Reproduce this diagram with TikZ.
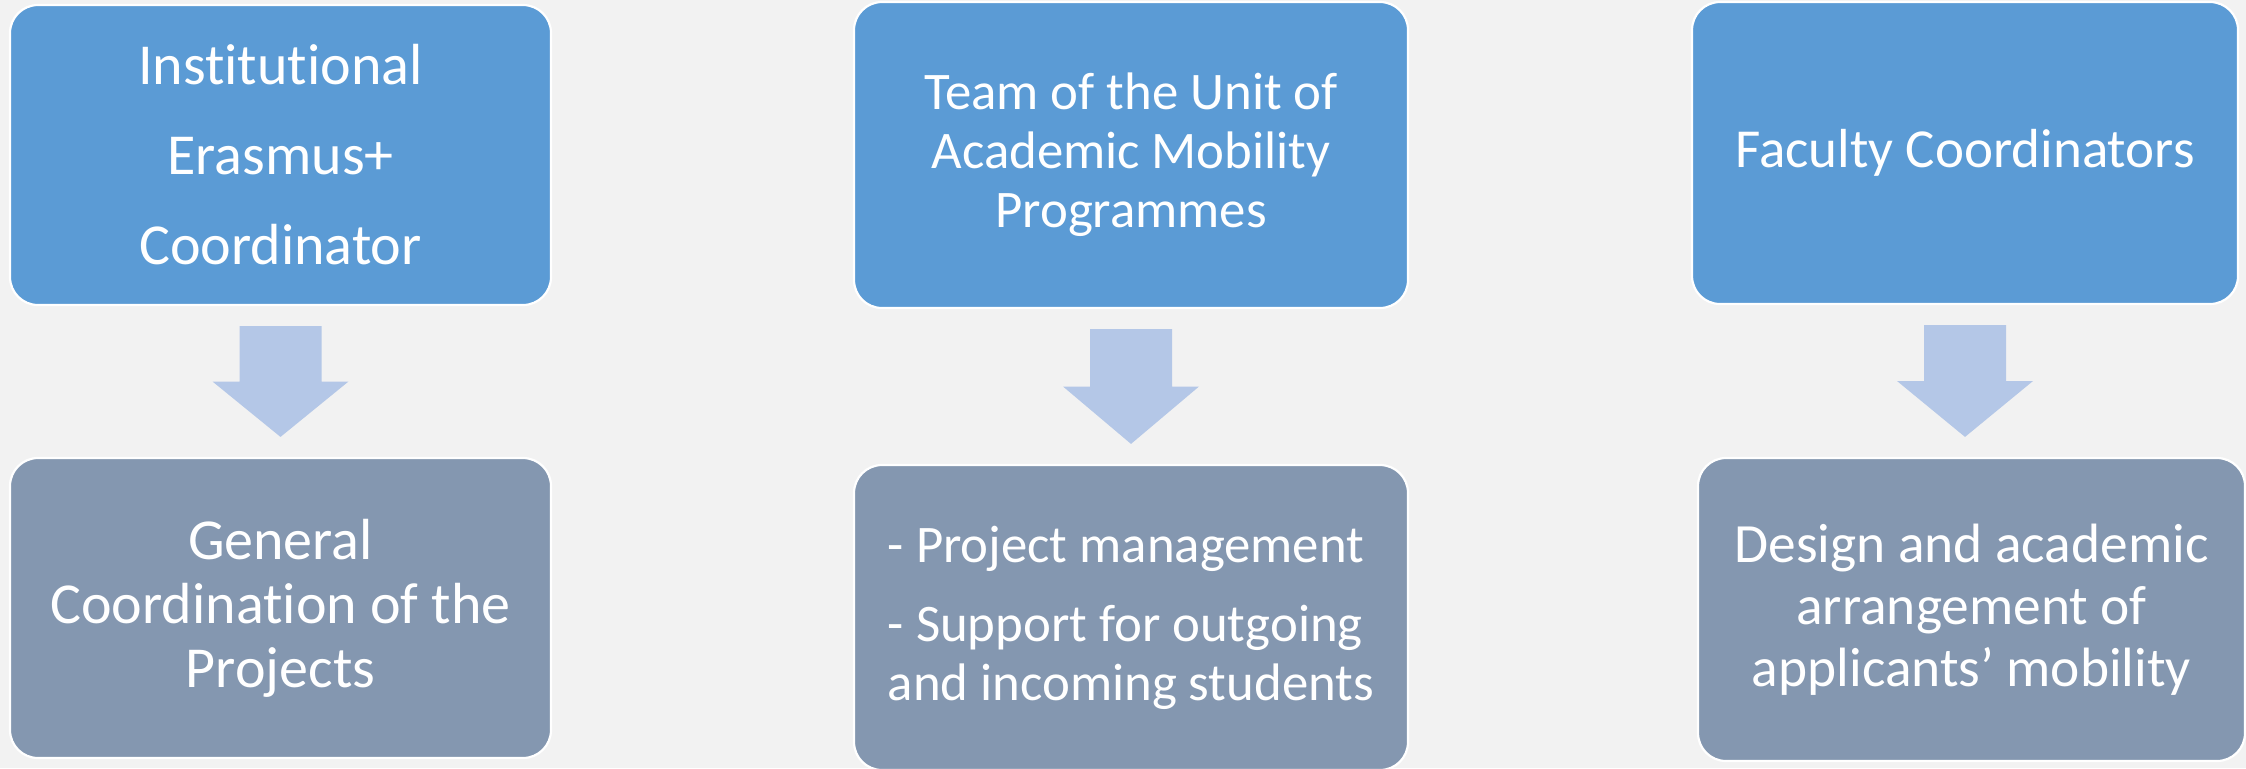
\documentclass[tikz,border=0pt]{standalone}
\usepackage{fontspec}
\setmainfont{Carlito}[Ligatures={NoCommon}]
\usetikzlibrary{calc}
\definecolor{bg}{HTML}{F2F2F2}
\definecolor{topblue}{HTML}{5B9BD5}
\definecolor{botgrey}{HTML}{8497B0}
\definecolor{arrowblue}{HTML}{B4C7E7}
\newcommand\blockarr[2]{%
  \fill[blockarrow] let \p1=(#1.south), \p2=(#2.north), \p3=($(\p1)!0.5!(\p2)$) in
    (\x1-20.5pt,\y1-10pt) -- (\x1+20.5pt,\y1-10pt) -- (\x1+20.5pt,\y3) --
    (\x1+34pt,\y3) -- (\x1,\y2+10pt) -- (\x1-34pt,\y3) --
    (\x1-20.5pt,\y3) -- cycle;}
\begin{document}
\begin{tikzpicture}[x=0.5pt,y=-0.5pt,
  box/.style={draw=white, line width=1.1pt, rounded corners=14pt, inner sep=0pt, text=white, align=center},
  topbox/.style={box, fill=topblue},
  botbox/.style={box, fill=botgrey},
  blockarrow/.style={fill=arrowblue}]
\fill[bg] (0,0) rectangle (2246,768);
\useasboundingbox (0,0) rectangle (2246,768);
% top row
\node[topbox, minimum width=270.5pt, minimum height=150pt,
  font=\fontsize{29}{45}\selectfont] (b1) at (280.5,155)
  {Institutional\\Erasmus+\\Coordinator};
\node[topbox, minimum width=277pt, minimum height=153pt,
  font=\fontsize{26.4}{29.5}\selectfont] (b2) at (1131,155)
  {Team of the Unit of\\Academic Mobility\\Programmes};
\node[topbox, minimum width=273pt, minimum height=151pt,
  font=\fontsize{27.5}{31}\selectfont] (b3) at (1965,153)
  {Faculty Coordinators};
% bottom row
\node[botbox, minimum width=270.5pt, minimum height=150pt,
  font=\fontsize{29}{32}\selectfont] (b4) at (280.5,608)
  {General\\Coordination of the\\Projects};
\node[botbox, minimum width=277pt, minimum height=152.5pt, align=left,
  font=\fontsize{26.4}{29.5}\selectfont] (b5) at (1131,617.5)
  {- Project management\\[10pt]- Support for outgoing\\and incoming students};
\node[botbox, minimum width=273.5pt, minimum height=151.5pt,
  font=\fontsize{27.7}{31}\selectfont] (b6) at (1971.5,609.5)
  {Design and academic\\arrangement of\\applicants’ mobility};
% block arrows
\blockarr{b1}{b4}
\blockarr{b2}{b5}
\blockarr{b3}{b6}
\end{tikzpicture}
\end{document}
